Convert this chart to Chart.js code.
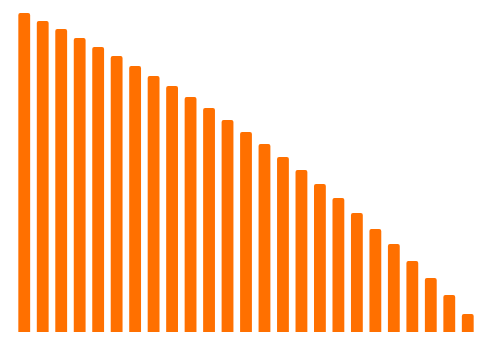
<!DOCTYPE html>
<html>
<head>
<meta charset="utf-8">
<script src="https://cdn.jsdelivr.net/npm/chart.js@4/dist/chart.umd.min.js"></script>
<style>
  html, body { margin: 0; padding: 0; background: #fff; }
  #wrap { width: 497px; height: 343px; position: relative; }
</style>
</head>
<body>
<div id="wrap"><canvas id="chart"></canvas></div>
<script>
// datos
const categories = ['1','2','3','4','5','6','7','8','9','10','11','12','13','14','15','16','17','18','19','20','21','22','23','24','25'];
const values = [319, 311, 303, 294, 285, 276, 266, 256, 246, 235, 224, 212, 200, 188, 175, 162, 148, 134, 119, 103, 88, 71, 54, 37, 18];

const ctx = document.getElementById('chart').getContext('2d');
new Chart(ctx, {
    type: 'bar',
    data: {
        labels: categories,
        datasets: [{
            data: values,
            backgroundColor: '#ff7000',
            borderWidth: 0,
            borderRadius: { topLeft: 2, topRight: 2 },
            borderSkipped: 'bottom',
            categoryPercentage: 0.8,
            barPercentage: 0.8
        }]
    },
    options: {
        responsive: true,
        maintainAspectRatio: false,
        animation: false,
        layout: { padding: { left: 15, right: 20, top: 12, bottom: 11 } },
        plugins: {
            legend: { display: false },
            tooltip: { enabled: false }
        },
        scales: {
            x: { display: false },
            y: { display: false, min: 0, max: 320 }
        }
    }
});
</script>
</body>
</html>
